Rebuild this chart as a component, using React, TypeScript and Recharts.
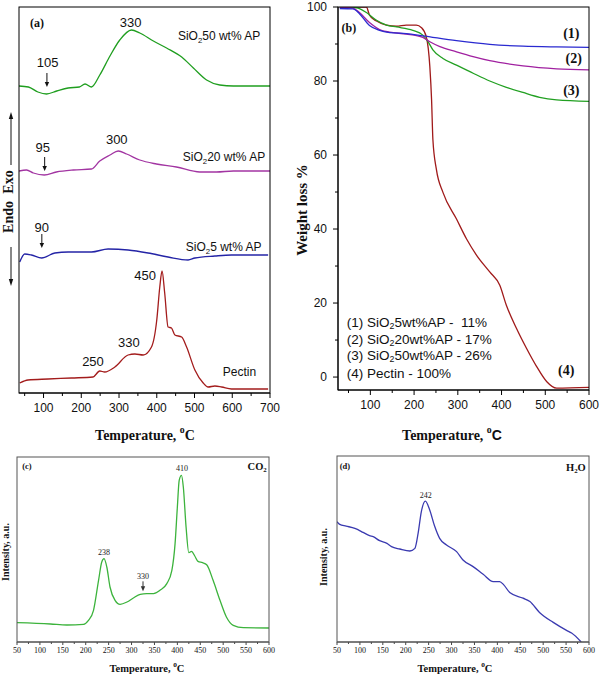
import React from "react";
import { LineChart, Line, XAxis, YAxis, ReferenceDot } from "recharts";

// ---------- (a) DSC curves (arbitrary heat-flow units) ----------
const dscT50 = [35, 60, 85, 108, 135, 165, 195, 210, 227, 249, 276, 302, 333, 355, 391, 426, 466, 497, 532, 567, 603, 700];
const dsc50 = [307, 306, 301, 299, 302, 305, 306, 309, 306, 318, 337, 353, 363, 360, 352, 345, 336, 325, 313, 308, 307, 307];
const dscT20 = [35, 55, 73, 102, 134, 179, 227, 249, 276, 298, 320, 355, 399, 452, 514, 558, 603, 700];
const dsc20 = [222, 223, 220, 218, 221, 223, 224, 232, 238, 242, 239, 233, 229, 226, 221, 221, 222, 222];
const dscT5 = [37, 50, 68, 95, 130, 165, 227, 271, 324, 377, 430, 483, 501, 554, 598, 695];
const dsc5 = [131, 139, 138, 135, 140, 141, 141, 144, 143, 140, 136, 133, 135, 137, 138, 138];
const dscTP = [37, 59, 112, 174, 231, 249, 262, 289, 324, 342, 364, 386, 400, 408, 414, 421, 430, 439, 448, 466, 479, 501, 523, 536, 554, 572, 598, 695];
const dscP = [10, 13, 14, 15, 16, 22, 21, 26, 38, 39, 38, 46, 73, 106, 122, 100, 66, 65, 58, 56, 46, 23, 10, 6, 7, 6, 4, 4];

// ---------- (b) TGA weight % ----------
const tgaT1 = [30, 60, 75, 98, 121, 144, 182, 220, 297, 373, 449, 526, 600];
const tga1 = [99.6, 99.5, 98.2, 95.0, 93.7, 93.1, 92.8, 92.2, 90.9, 89.9, 89.4, 89.2, 89.1];
const tgaT2 = [30, 60, 75, 98, 121, 144, 182, 220, 236, 259, 297, 335, 373, 449, 526, 600];
const tga2 = [100, 99.7, 98.5, 95.8, 93.9, 93.2, 92.7, 91.8, 90.6, 89.3, 87.9, 86.6, 85.5, 84.1, 83.3, 83.0];
const tgaT3 = [30, 68, 91, 114, 137, 160, 197, 220, 232, 243, 266, 297, 335, 373, 411, 449, 487, 526, 600];
const tga3 = [100, 99.8, 98.5, 96.4, 95.1, 94.6, 93.7, 92.4, 90.6, 88.4, 86.1, 84.3, 82.1, 80.0, 78.3, 76.9, 75.6, 74.9, 74.5];
const tgaT4 = [30, 91, 98, 114, 137, 160, 182, 205, 217, 228, 236, 240, 243, 251, 266, 297, 320, 343, 373, 396, 411, 434, 457, 480, 503, 526, 600];
const tga4 = [100, 100, 97.8, 96.2, 95.1, 94.8, 95.1, 95.1, 94.4, 91.9, 83.9, 74.9, 64.2, 56.1, 49.9, 42.7, 37.3, 32.9, 28.4, 24.8, 19.4, 13.2, 7.8, 2.9, -1.2, -3.0, -2.8];

// ---------- (c) CO2 and (d) H2O intensities (a.u.) ----------
const co2T = [50, 123, 159, 195, 206, 217, 228, 235, 240, 246, 253, 264, 275, 290, 304, 319, 333, 348, 362, 377, 388, 395, 400, 404, 409, 413, 419, 425, 431, 438, 445, 455, 464, 478, 493, 507, 522, 544, 600];
const co2 = [58, 54, 51, 53, 65, 95, 185, 240, 250, 225, 165, 125, 113, 120, 132, 143, 145, 145, 155, 175, 215, 295, 405, 485, 500, 465, 345, 268, 272, 258, 242, 238, 232, 185, 125, 75, 50, 43, 42];
const h2oT = [50, 56, 70, 89, 107, 121, 129, 143, 159, 169, 187, 209, 220, 227, 234, 243, 252, 263, 274, 289, 311, 325, 347, 369, 391, 405, 414, 427, 456, 471, 492, 522, 551, 562, 583];
const h2o = [362, 354, 349, 342, 330, 320, 317, 305, 297, 287, 280, 274, 282, 327, 392, 424, 399, 349, 312, 292, 272, 247, 227, 204, 182, 182, 172, 149, 132, 122, 89, 59, 35, 27, 0];

// ticks
const ticksA = [50, 100, 150, 200, 250, 300, 350, 400, 450, 500, 550, 600, 650, 700];
const ticksB = [50, 100, 150, 200, 250, 300, 350, 400, 450, 500, 550, 600];
const ticksBY = [0, 10, 20, 30, 40, 50, 60, 70, 80, 90, 100];
const ticksCD = [50, 75, 100, 125, 150, 175, 200, 225, 250, 275, 300, 325, 350, 375, 400, 425, 450, 475, 500, 525, 550, 575, 600];

// annotations
const peaksA = [
  { t: 331, v: 371, text: "330" },
  { t: 111, v: 331, text: "105" },
  { t: 294, v: 254, text: "300" },
  { t: 98, v: 246, text: "95" },
  { t: 95.5, v: 166, text: "90" },
  { t: 369, v: 118, text: "450" },
  { t: 326, v: 51, text: "330" },
  { t: 231, v: 32, text: "250" },
];
const arrowsA = [
  { t: 109, v: 320 },
  { t: 103, v: 236 },
  { t: 95.5, v: 159 },
];
const namesA = [
  { t: 456, v: 357, pre: "SiO", sub: "2", post: "50 wt% AP" },
  { t: 469, v: 236, pre: "SiO", sub: "2", post: "20 wt% AP" },
  { t: 477, v: 146, pre: "SiO", sub: "2", post: "5 wt% AP" },
  { t: 575, v: 21, pre: "Pectin", sub: "", post: "" },
];
const curveNumsB = [
  { t: 559.5, v: 92.9, text: "(1)" },
  { t: 565, v: 86, text: "(2)" },
  { t: 559.5, v: 77.4, text: "(3)" },
  { t: 548, v: 1.9, text: "(4)" },
];
const legendB = [
  { t: 46, v: 15.0, pre: "(1) SiO", sub: "2", post: "5wt%AP -  11%" },
  { t: 46, v: 10.2, pre: "(2) SiO", sub: "2", post: "20wt%AP - 17%" },
  { t: 46, v: 5.9, pre: "(3) SiO", sub: "2", post: "50wt%AP - 26%" },
  { t: 46, v: 1.0, pre: "(4) Pectin - 100%", sub: "", post: "" },
];

const zip = (t: number[], v: number[]) => t.map((x, i) => ({ t: x, v: v[i] }));

const SERIF = "'Liberation Serif', 'Times New Roman', serif";
const SANS = "'Liberation Sans', Arial, sans-serif";

type TickOpt = { major: number; big: number; small: number; dy: number; size: number; font: string; color: string };

const bottomTick = (o: TickOpt) => (p: any) => {
  const v = p.payload.value;
  const isMajor = v % o.major === 0;
  return (
    <g>
      <line x1={p.x} x2={p.x} y1={p.y} y2={p.y + (isMajor ? o.big : o.small)} stroke={o.color} />
      {isMajor && (
        <text x={p.x} y={p.y + o.dy} textAnchor="middle" fontSize={o.size} fontFamily={o.font} fill="#111">
          {v}
        </text>
      )}
    </g>
  );
};

const leftTick = (o: TickOpt) => (p: any) => {
  const v = p.payload.value;
  const isMajor = v % o.major === 0;
  return (
    <g>
      <line x1={p.x} x2={p.x - (isMajor ? o.big : o.small)} y1={p.y} y2={p.y} stroke={o.color} />
      {isMajor && (
        <text x={p.x - o.dy} y={p.y} textAnchor="end" dominantBaseline="central" fontSize={o.size} fontFamily={o.font} fill="#111">
          {v}
        </text>
      )}
    </g>
  );
};

// text placed at a data position
const note = (key: string, t: number, v: number, draw: (cx: number, cy: number) => React.ReactNode) => (
  <ReferenceDot key={key} x={t} y={v} r={0} ifOverflow="visible" shape={(p: any) => <g>{draw(p.cx, p.cy)}</g>} />
);

const subText = (cx: number, cy: number, pre: string, sub: string, post: string, size: number, font: string, anchor: string, weight = "normal") => (
  <text x={cx} y={cy} dominantBaseline="central" textAnchor={anchor as any} fontSize={size} fontFamily={font} fontWeight={weight} fill="#111" style={{ whiteSpace: "pre" }}>
    <tspan>{pre}</tspan>
    {sub && (
      <tspan dy={size * 0.3} fontSize={size * 0.65}>
        {sub}
      </tspan>
    )}
    {post && <tspan dy={sub ? -size * 0.3 : 0}>{post}</tspan>}
  </text>
);

const downArrow = (cx: number, cy: number, len: number, color = "#111") => (
  <g>
    <line x1={cx} x2={cx} y1={cy} y2={cy + len - 3} stroke={color} strokeWidth={1} />
    <path d={`M${cx - 2.2},${cy + len - 4} L${cx + 2.2},${cy + len - 4} L${cx},${cy + len + 1} Z`} fill={color} />
  </g>
);

const lineProps = { type: "monotone" as const, dataKey: "v", dot: false, isAnimationActive: false, strokeWidth: 1.3 };

function PanelA() {
  const tk = bottomTick({ major: 100, big: 5, small: 3, dy: 19, size: 12, font: SANS, color: "#000" });
  return (
    <LineChart width={300} height={440} margin={{ top: 7, right: 30, bottom: 0, left: 19 }}>
      <XAxis type="number" dataKey="t" domain={[35, 700]} ticks={ticksA} interval={0} tickSize={0} tickMargin={0} tick={tk} height={47} allowDataOverflow stroke="#000" />
      <YAxis type="number" domain={[0, 386]} tick={false} tickLine={false} width={0} allowDataOverflow stroke="#000" />
      <Line {...lineProps} data={zip(dscT50, dsc50)} stroke="#1f9e1f" />
      <Line {...lineProps} data={zip(dscT20, dsc20)} stroke="#a235a2" />
      <Line {...lineProps} data={zip(dscT5, dsc5)} stroke="#2424a6" />
      <Line {...lineProps} data={zip(dscTP, dscP)} stroke="#a31c1c" />
      {note("lab", 64, 370, (x, y) => (
        <text x={x} y={y} dominantBaseline="central" fontFamily={SERIF} fontWeight="bold" fontSize={12} fill="#111">(a)</text>
      ))}
      {peaksA.map((p, i) =>
        note("p" + i, p.t, p.v, (x, y) => (
          <text x={x} y={y} textAnchor="middle" dominantBaseline="central" fontFamily={SANS} fontSize={13} fill="#111">{p.text}</text>
        ))
      )}
      {arrowsA.map((a, i) => note("a" + i, a.t, a.v, (x, y) => downArrow(x, y, 13)))}
      {namesA.map((n, i) => note("n" + i, n.t, n.v, (x, y) => subText(x, y, n.pre, n.sub, n.post, 12, SANS, "start")))}
    </LineChart>
  );
}

function PanelB() {
  const tk = bottomTick({ major: 100, big: 5, small: 3, dy: 19, size: 12, font: SANS, color: "#000" });
  const ytk = leftTick({ major: 20, big: 5, small: 3, dy: 11, size: 12, font: SANS, color: "#000" });
  return (
    <LineChart width={300} height={440} margin={{ top: 7, right: 11, bottom: 0, left: 0 }}>
      <XAxis type="number" dataKey="t" domain={[26, 600]} ticks={ticksB} interval={0} tickSize={0} tickMargin={0} tick={tk} height={50} allowDataOverflow stroke="#000" />
      <YAxis type="number" domain={[-3.5, 100]} ticks={ticksBY} interval={0} tickSize={0} tickMargin={0} tick={ytk} width={38} allowDataOverflow stroke="#000" />
      <Line {...lineProps} data={zip(tgaT4, tga4)} stroke="#a01a1a" />
      <Line {...lineProps} data={zip(tgaT3, tga3)} stroke="#22a022" />
      <Line {...lineProps} data={zip(tgaT2, tga2)} stroke="#a020a0" />
      <Line {...lineProps} data={zip(tgaT1, tga1)} stroke="#2a2ad0" />
      {note("lab", 34, 94.3, (x, y) => (
        <text x={x} y={y} dominantBaseline="central" fontFamily={SERIF} fontWeight="bold" fontSize={12} fill="#111">(b)</text>
      ))}
      {curveNumsB.map((c, i) =>
        note("c" + i, c.t, c.v, (x, y) => (
          <text x={x} y={y} textAnchor="middle" dominantBaseline="central" fontFamily={SERIF} fontWeight="bold" fontSize={14} fill="#111">{c.text}</text>
        ))
      )}
      {legendB.map((l, i) => note("l" + i, l.t, l.v, (x, y) => subText(x, y, l.pre, l.sub, l.post, 13.5, SANS, "start")))}
    </LineChart>
  );
}

function PanelC() {
  const tk = bottomTick({ major: 50, big: 3, small: 2, dy: 11, size: 8, font: SERIF, color: "#444" });
  return (
    <LineChart width={300} height={236} margin={{ top: 17, right: 31, bottom: 0, left: 17 }}>
      <XAxis type="number" dataKey="t" domain={[50, 600]} ticks={ticksCD} interval={0} tickSize={0} tickMargin={0} tick={tk} height={34} allowDataOverflow stroke="#444" />
      <YAxis type="number" domain={[0, 555]} tick={false} tickLine={false} width={0} allowDataOverflow stroke="#444" />
      <Line {...lineProps} data={zip(co2T, co2)} stroke="#3cb33c" />
      {note("lab", 61.5, 527, (x, y) => (
        <text x={x} y={y} dominantBaseline="central" fontFamily={SERIF} fontWeight="bold" fontSize={8.5} fill="#111">(c)</text>
      ))}
      {note("gas", 595, 527, (x, y) => subText(x, y, "CO", "2", "", 10.5, SERIF, "end", "bold"))}
      {note("p1", 410, 521, (x, y) => <text x={x} y={y} textAnchor="middle" dominantBaseline="central" fontFamily={SERIF} fontSize={8} fill="#222">410</text>)}
      {note("p2", 240, 269, (x, y) => <text x={x} y={y} textAnchor="middle" dominantBaseline="central" fontFamily={SERIF} fontSize={8} fill="#222">238</text>)}
      {note("p3", 325, 197, (x, y) => <text x={x} y={y} textAnchor="middle" dominantBaseline="central" fontFamily={SERIF} fontSize={8} fill="#222">330</text>)}
      {note("a3", 325, 182, (x, y) => downArrow(x, y, 9, "#333"))}
    </LineChart>
  );
}

function PanelD() {
  const tk = bottomTick({ major: 50, big: 3, small: 2, dy: 11, size: 8, font: SERIF, color: "#444" });
  return (
    <LineChart width={300} height={236} margin={{ top: 16, right: 11, bottom: 0, left: 37 }}>
      <XAxis type="number" dataKey="t" domain={[50, 600]} ticks={ticksCD} interval={0} tickSize={0} tickMargin={0} tick={tk} height={34} allowDataOverflow stroke="#444" />
      <YAxis type="number" domain={[0, 560]} tick={false} tickLine={false} width={0} allowDataOverflow stroke="#444" />
      <Line {...lineProps} data={zip(h2oT, h2o)} stroke="#3a3ab0" />
      {note("lab", 56, 529, (x, y) => (
        <text x={x} y={y} dominantBaseline="central" fontFamily={SERIF} fontWeight="bold" fontSize={8.5} fill="#111">(d)</text>
      ))}
      {note("gas", 593, 526, (x, y) => subText(x, y, "H", "2", "O", 10.5, SERIF, "end", "bold"))}
      {note("p1", 243.6, 442, (x, y) => <text x={x} y={y} textAnchor="middle" dominantBaseline="central" fontFamily={SERIF} fontSize={8} fill="#222">242</text>)}
    </LineChart>
  );
}

const tempTitle = (cx: number, cy: number, size: number, cFont: string) => (
  <text x={cx} y={cy} textAnchor="middle" dominantBaseline="central" fontFamily={SERIF} fontWeight="bold" fontSize={size} fill="#111">
    <tspan>Temperature, </tspan>
    <tspan dy={-size * 0.4} fontSize={size * 0.7}>o</tspan>
    <tspan dy={size * 0.4} fontFamily={cFont}>C</tspan>
  </text>
);

const vTitle = (cx: number, cy: number, size: number, text: string) => (
  <text transform={`translate(${cx},${cy}) rotate(-90)`} textAnchor="middle" dominantBaseline="central" fontFamily={SERIF} fontWeight="bold" fontSize={size} fill="#111">
    {text}
  </text>
);

export default function App() {
  const box = (l: number, t: number): React.CSSProperties => ({ position: "absolute", left: l, top: t });
  return (
    <div style={{ position: "absolute", left: 0, top: 0, width: 600, height: 676, background: "#fff" }}>
      <div style={box(0, 0)}><PanelA /></div>
      <div style={box(300, 0)}><PanelB /></div>
      <div style={box(0, 440)}><PanelC /></div>
      <div style={box(300, 440)}><PanelD /></div>
      <svg width={600} height={676} style={{ position: "absolute", left: 0, top: 0, pointerEvents: "none" }}>
        {/* plot-box outlines, matching the chart margins */}
        <rect x={19} y={7} width={251} height={386} fill="none" stroke="#000" strokeWidth={1} />
        <rect x={338} y={7} width={251} height={383} fill="none" stroke="#000" strokeWidth={1} />
        <rect x={17} y={457} width={252} height={185} fill="none" stroke="#555" strokeWidth={1} />
        <rect x={337} y={456} width={252} height={186} fill="none" stroke="#555" strokeWidth={1} />
        {tempTitle(145, 435, 14, SERIF)}
        {tempTitle(452, 435, 14, SANS)}
        {tempTitle(147, 668, 10.5, SERIF)}
        {tempTitle(455, 668, 10.5, SERIF)}
        {vTitle(302, 210, 15, "Weight loss %")}
        {vTitle(5, 552, 10, "Intensity, a.u.")}
        {vTitle(323, 557, 10, "Intensity, a.u.")}
        {vTitle(8, 182, 14, "Exo")}
        {vTitle(8, 217, 14, "Endo")}
        <line x1={11} x2={11} y1={165} y2={118} stroke="#111" />
        <path d="M8.8,119 L13.2,119 L11,112 Z" fill="#111" />
        <line x1={11} x2={11} y1={247} y2={280} stroke="#111" />
        <path d="M8.8,279 L13.2,279 L11,286 Z" fill="#111" />
      </svg>
    </div>
  );
}
